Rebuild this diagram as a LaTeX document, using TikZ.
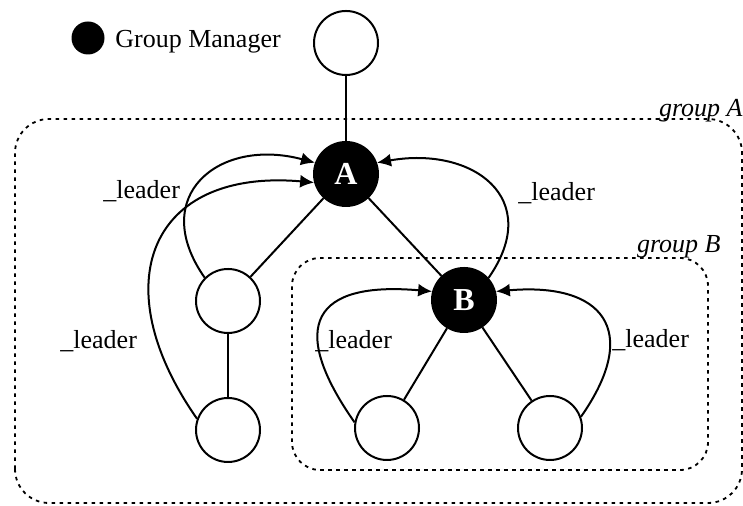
\documentclass[tikz,border=0pt]{standalone}
\usepackage{fontspec}
\setmainfont{Liberation Serif}
\usetikzlibrary{arrows.meta}

\begin{document}
\begin{tikzpicture}[x=0.5pt,y=0.5pt,
    member/.style={circle, draw, line width=1pt, minimum size=32pt, inner sep=0pt},
    manager/.style={circle, draw, fill=black, line width=1pt, minimum size=32pt, inner sep=0pt,
        text=white, font=\fontsize{16}{18}\selectfont\bfseries},
    link/.style={line width=1pt},
    leader/.style={line width=1pt, -{Latex[length=7pt,width=6.5pt]}},
    groupbox/.style={line width=0.9pt, dash pattern=on 1.8pt off 2.2pt},
    lbl/.style={font=\fontsize{13}{15}\selectfont, inner sep=0pt}]
    \useasboundingbox (0,0) rectangle (743,506);

    % Legend
    \node[circle, fill=black, minimum size=16.5pt, inner sep=0pt] (gmdot) at (88,468) {};
    \node[lbl, anchor=base west] (gmtext) at (115,458) {Group Manager};

    % Groups
    \draw[groupbox, rounded corners=17pt] (15,3) rectangle (742,387);
    \draw[groupbox, rounded corners=14pt] (292,36) rectangle (708,248);
    \node[lbl, font=\fontsize{13}{15}\selectfont\itshape, anchor=base east] (grpA) at (743,389) {group A};
    \node[lbl, font=\fontsize{13}{15}\selectfont\itshape, anchor=base east] (grpB) at (721,253) {group B};

    % Nodes
    \node[member] (top) at (346,463) {};
    \node[manager] (A) at (346,332) {A};
    \node[member] (lm) at (228,205) {};
    \node[member] (lb) at (228,76) {};
    \node[manager] (B) at (464,206) {B};
    \node[member] (bl) at (387,78) {};
    \node[member] (br) at (550,78) {};

    % Tree edges
    \draw[link] (top) -- (A);
    \draw[link] (A) -- (lm);
    \draw[link] (A) -- (B);
    \draw[link] (lm) -- (lb);
    \draw[link] (B) -- (bl);
    \draw[link] (B) -- (br);

    % Leader pointers
    \draw[leader] (lm.135) to[out=125, in=165, looseness=1.6] (A.160);
    \draw[leader] (lb.160) to[out=125, in=175, looseness=1.6] (A.195);
    \draw[leader] (B.42) to[out=55, in=10, looseness=1.55] (A.20);
    \draw[leader] (bl.170) to[out=125, in=175, looseness=2] (B.165);
    \draw[leader] (br.20) to[out=55, in=5, looseness=1.8] (B.15);

    \node[lbl, anchor=base west] (l1) at (103,307) {\_leader};
    \node[lbl, anchor=base west] (l2) at (60,157) {\_leader};
    \node[lbl, anchor=base west] (l3) at (518,305) {\_leader};
    \node[lbl, anchor=base west] (l4) at (315,157) {\_leader};
    \node[lbl, anchor=base west] (l5) at (612,158) {\_leader};
\end{tikzpicture}
\end{document}
